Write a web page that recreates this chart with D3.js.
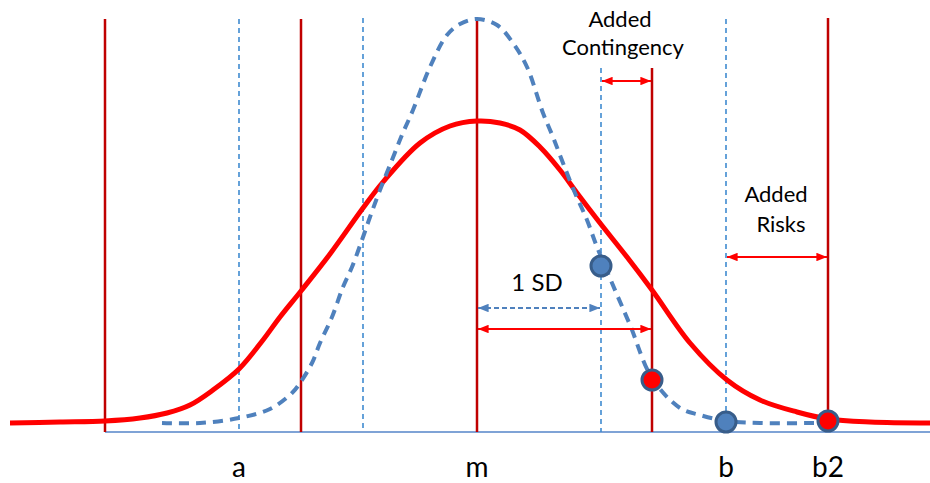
<!DOCTYPE html>
<html>
<head>
<meta charset="utf-8">
<script src="https://cdn.jsdelivr.net/npm/d3@7"></script>
<style>
  html, body { margin: 0; padding: 0; background: #fff; }
  svg { display: block; }
  text { font-family: Lato, "Open Sans", sans-serif; fill: #000; }
</style>
</head>
<body>
<svg id="chart" width="930" height="483"></svg>
<script>
// ---------------- DATA ----------------
// x values on the cost axis (chart units), y values = curve height above the baseline
const solidX = [10, 60, 105, 140, 167, 190, 213, 239, 263, 280, 301, 330, 363, 383, 420, 450, 477, 500, 520, 540, 560, 577, 600, 627, 652, 690, 727, 760, 797, 828, 870, 930];
const solidY = [9, 10, 11, 14, 19, 27, 42, 63, 92, 115, 141, 178, 224, 250, 289, 306, 311, 309, 302, 285, 262, 239, 209, 175, 142, 89, 52, 32, 20, 13, 10, 9];

const dashedX = [162, 200, 239, 270, 292, 300, 312, 320, 332, 343, 352, 362, 370, 380, 392, 402, 413, 430, 447, 460, 477, 497, 513, 527, 543, 553, 563, 575, 587, 597, 612, 630, 652, 680, 700, 726, 760, 815];
const dashedY = [9, 9, 14, 23, 39, 49, 69, 89, 115, 145, 165, 192, 215, 242, 272, 297, 322, 365, 397, 408, 413, 407, 389, 365, 319, 295, 269, 239, 212, 185, 149, 107, 54, 24, 17, 11, 9, 9];

const redLineX = [105, 301, 477, 652, 828];
const redLineTop = [413, 413, 413, 364, 414];
const blueLineX = [239, 363, 601, 726];
const blueLineTop = [413, 414, 364, 413];

const tickLabels = ["a", "m", "b", "b2"];
const tickX = [239, 477, 726, 828];

const blueDotsX = [601, 726];
const blueDotsY = [166, 10];
const redDotsX = [652, 828];
const redDotsY = [52, 11];

const baselineX = [105, 930];

// ---------------- SCALES ----------------
const svg = d3.select("#chart");
const x = d3.scaleLinear().domain([0, 930]).range([0, 930]);
const y = d3.scaleLinear().domain([0, 414]).range([432, 18]);

// markers
const defs = svg.append("defs");
function mk(id, color) {
  defs.append("marker")
    .attr("id", id).attr("viewBox", "0 0 10 8")
    .attr("refX", 10).attr("refY", 4)
    .attr("markerWidth", 11).attr("markerHeight", 8.5)
    .attr("markerUnits", "userSpaceOnUse")
    .attr("orient", "auto-start-reverse")
    .append("path").attr("d", "M0,0 L10,4 L0,8 Z").attr("fill", color);
}
mk("arrRed", "#ff0000");
mk("arrBlue", "#4f81bd");

// baseline
svg.append("line")
  .attr("x1", x(baselineX[0])).attr("x2", x(baselineX[1]))
  .attr("y1", y(0)).attr("y2", y(0))
  .attr("stroke", "#7fa3d6").attr("stroke-width", 2);

// dotted blue verticals
svg.selectAll(".bv").data(blueLineX).join("line")
  .attr("x1", d => x(d)).attr("x2", d => x(d))
  .attr("y1", (d, i) => y(blueLineTop[i])).attr("y2", y(0))
  .attr("stroke", "#3f8bd0").attr("stroke-width", 1.6)
  .attr("stroke-dasharray", "5,4");

// red verticals
svg.selectAll(".rv").data(redLineX).join("line")
  .attr("x1", d => x(d)).attr("x2", d => x(d))
  .attr("y1", (d, i) => y(redLineTop[i])).attr("y2", y(0))
  .attr("stroke", "#c00000").attr("stroke-width", 2.5);

// curves
const line = d3.line().x(d => x(d[0])).y(d => y(d[1])).curve(d3.curveCatmullRom.alpha(0.5));
svg.append("path")
  .datum(solidX.map((v, i) => [v, solidY[i]]))
  .attr("d", line).attr("fill", "none")
  .attr("stroke", "#ff0000").attr("stroke-width", 5);
svg.append("path")
  .datum(dashedX.map((v, i) => [v, dashedY[i]]))
  .attr("d", line).attr("fill", "none")
  .attr("stroke", "#4f81bd").attr("stroke-width", 4)
  .attr("stroke-dasharray", "10,7");

// arrows
function arrow(x1, x2, yy, color, marker, dash) {
  svg.append("line")
    .attr("x1", x(x1) + 1).attr("x2", x(x2) - 1)
    .attr("y1", yy).attr("y2", yy)
    .attr("stroke", color).attr("stroke-width", 1.8)
    .attr("stroke-dasharray", dash || null)
    .attr("marker-start", `url(#${marker})`)
    .attr("marker-end", `url(#${marker})`);
}
arrow(601, 652, 81, "#ff0000", "arrRed");
arrow(726, 828, 257, "#ff0000", "arrRed");
arrow(477, 601, 308, "#4f81bd", "arrBlue", "5,3");
arrow(477, 652, 329, "#ff0000", "arrRed");

// dots
svg.selectAll(".bd").data(blueDotsX).join("circle")
  .attr("cx", d => x(d)).attr("cy", (d, i) => y(blueDotsY[i]))
  .attr("r", 10).attr("fill", "#4f81bd")
  .attr("stroke", "#385d8a").attr("stroke-width", 3);
svg.selectAll(".rd").data(redDotsX).join("circle")
  .attr("cx", d => x(d)).attr("cy", (d, i) => y(redDotsY[i]))
  .attr("r", 10).attr("fill", "#ff0000")
  .attr("stroke", "#385d8a").attr("stroke-width", 3);

// annotations
function txt(s, cx, by, size) {
  svg.append("text").attr("x", cx).attr("y", by)
    .attr("text-anchor", "middle").attr("font-size", size).text(s);
}
txt("Added", 620, 27, 22);
txt("Contingency", 623, 55, 22);
txt("Added", 776, 202, 22);
txt("Risks", 781, 232, 22);
txt("1 SD", 537, 291, 24);

// tick labels
svg.selectAll(".tl").data(tickLabels).join("text")
  .attr("x", (d, i) => x(tickX[i])).attr("y", 477)
  .attr("text-anchor", "middle").attr("font-size", 28)
  .text(d => d);
</script>
</body>
</html>
